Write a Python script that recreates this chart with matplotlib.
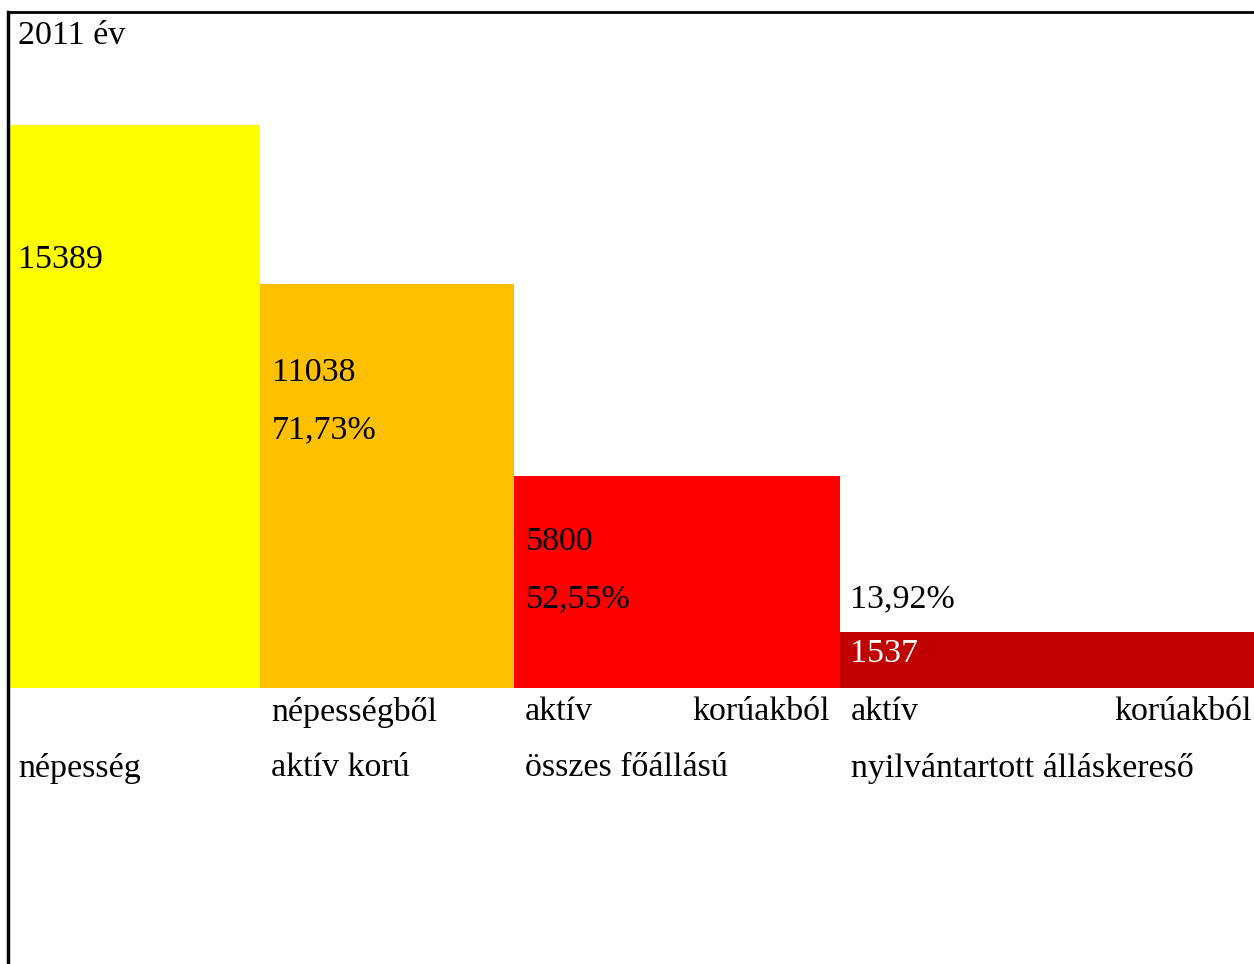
import matplotlib.pyplot as plt

# data
categories = ['népesség', 'népességből\naktív korú', 'aktív korúakból\nösszes főállású',
              'aktív korúakból\nnyilvántartott álláskereső']
values = [15389, 11038, 5800, 1537]
shares = ['', '71,73%', '52,55%', '13,92%']
title = '2011 év'

colors = ['#FFFF00', '#FFC000', '#FF0000', '#C00000']
col_edges = [10, 260, 514, 840, 1254]   # pixel layout of the table columns
W, H = 1254, 964
base_y = 688      # pixel row of the bar baseline
top_y = 125       # pixel row of the tallest bar
fs = 24.5
plt.rcParams['font.family'] = ['Liberation Serif', 'DejaVu Serif']

fig = plt.figure(figsize=(W / 100, H / 100), dpi=100)

# bar axes: x in pixels, y in data values
ax = fig.add_axes([0, (H - base_y) / H, 1, (base_y - top_y) / H])
ax.set_xlim(0, W)
ax.set_ylim(0, max(values))
ax.axis('off')
lefts = col_edges[:-1]
widths = [col_edges[i + 1] - col_edges[i] for i in range(len(values))]
ax.bar(lefts, values, width=widths, align='edge', color=colors, linewidth=0)

# overlay axes in pixel units for borders and texts, drawn on top
ov = fig.add_axes([0, 0, 1, 1])
ov.set_xlim(0, W)
ov.set_ylim(H, 0)
ov.axis('off')
ov.set_zorder(3)

# table borders
ov.plot([8, W], [12, 12], color='black', lw=2)
ov.plot([8, 8], [12, H], color='black', lw=2.5)

# texts (y = vertical centre in pixels)
dy = 3
ov.text(18, 33 + dy, title, fontsize=fs, va='center')
value_pos = [(18, 257), (272, 370), (526, 539), (850, 651)]
share_pos = [None, (272, 427), (526, 596), (850, 596)]
for i, v in enumerate(values):
    x, y = value_pos[i]
    ov.text(x, y + dy, str(v), fontsize=fs, va='center',
            color='white' if i == 3 else 'black')
    if shares[i]:
        x, y = share_pos[i]
        ov.text(x, y + dy, shares[i], fontsize=fs, va='center')

# category labels under the bars (justified like the table cells)
line1, line2 = 709 + dy, 765 + dy
for i, cat in enumerate(categories):
    x0 = col_edges[i] + (8 if i == 0 else 11)
    x1 = col_edges[i + 1] - 10 if i < len(categories) - 1 else W - 2
    parts = cat.split('\n')
    if len(parts) == 1:
        ov.text(x0, line2, parts[0], fontsize=fs, va='center')
        continue
    words = parts[0].split(' ')
    if len(words) == 2:
        ov.text(x0, line1, words[0], fontsize=fs, va='center')
        ov.text(x1, line1, words[1], fontsize=fs, va='center', ha='right')
    else:
        ov.text(x0, line1, parts[0], fontsize=fs, va='center')
    ov.text(x0, line2, parts[1], fontsize=fs, va='center')

fig.savefig('out.png', dpi=100)
